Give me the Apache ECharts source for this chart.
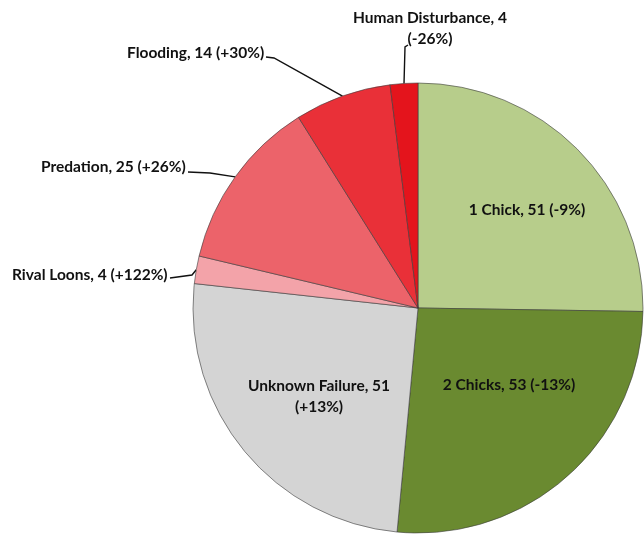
<!DOCTYPE html>
<html>
<head>
<meta charset="utf-8">
<title>Loon nesting outcomes</title>
<script src="https://cdn.jsdelivr.net/npm/echarts@6/dist/echarts.min.js"></script>
<style>
  html, body { margin: 0; padding: 0; background: #ffffff; }
  #chart { width: 644px; height: 535px; }
</style>
</head>
<body>
<div id="chart"></div>
<script>
// Nest outcomes, clockwise from 12 o'clock
var categories = ['1 Chick', '2 Chicks', 'Unknown Failure', 'Rival Loons', 'Predation', 'Flooding', 'Human Disturbance'];
var counts = [51, 53, 51, 4, 25, 14, 4];
var changes = ['-9%', '-13%', '+13%', '+122%', '+26%', '+30%', '-26%'];

var colors = ['#b7cd8b', '#6a8a30', '#d4d4d4', '#f3a3a9', '#ec636a', '#e93038', '#e4141c'];
var wrapped = { 'Unknown Failure': true, 'Human Disturbance': true };
var insideLabels = { '1 Chick': true, '2 Chicks': true, 'Unknown Failure': true };

// Label placement (styling only)
var labelSpots = {
  '1 Chick':          { x: 527, y: 210, align: 'center' },
  '2 Chicks':         { x: 509, y: 385, align: 'center' },
  'Unknown Failure':  { x: 319, y: 396, align: 'center' },
  'Rival Loons':      { x: 12,  y: 275, align: 'left', bend: [[192, 275], [170, 278]] },
  'Predation':        { x: 41,  y: 167, align: 'left', bend: [[210, 173], [188, 172]] },
  'Flooding':         { x: 127, y: 53,  align: 'left', bend: [[274, 58], [266, 57]] },
  'Human Disturbance':{ x: 430, y: 28,  align: 'center', bend: [[405, 47], [408, 45]] }
};

var pieData = categories.map(function (name, i) {
  return {
    name: name,
    value: counts[i],
    change: changes[i],
    itemStyle: { color: colors[i] },
    label: { position: insideLabels[name] ? 'inside' : 'outside' },
    labelLine: { show: !insideLabels[name] }
  };
});

var chart = echarts.init(document.getElementById('chart'), null, { renderer: 'canvas' });

chart.setOption({
  animation: false,
  backgroundColor: '#ffffff',
  series: [{
    type: 'pie',
    center: [418, 308],
    radius: 225,
    startAngle: 90,
    clockwise: true,
    avoidLabelOverlap: false,
    itemStyle: {
      borderColor: 'rgba(60,60,60,0.6)',
      borderWidth: 1
    },
    label: {
      show: true,
      color: '#111111',
      fontFamily: 'Lato',
      fontWeight: 'bold',
      fontSize: 15.5,
      lineHeight: 21,
      formatter: function (p) {
        var sep = wrapped[p.name] ? '\n' : ' ';
        return p.name + ', ' + p.value + sep + '(' + p.data.change + ')';
      }
    },
    labelLine: {
      show: true,
      lineStyle: { color: '#111111', width: 1.4 }
    },
    labelLayout: function (params) {
      var name = categories[params.dataIndex];
      var spot = labelSpots[name];
      var out = {
        x: spot.x,
        y: spot.y,
        align: spot.align,
        verticalAlign: 'middle'
      };
      if (spot.bend && params.labelLinePoints) {
        out.labelLinePoints = [params.labelLinePoints[0]].concat(spot.bend);
      }
      return out;
    },
    data: pieData
  }]
});
</script>
</body>
</html>
